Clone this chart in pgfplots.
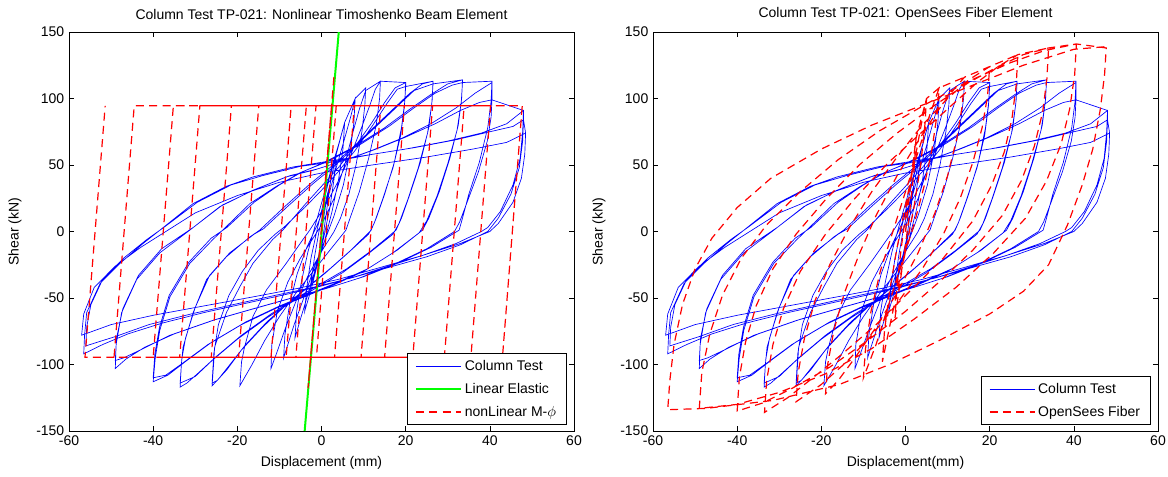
\documentclass[border=0pt]{standalone}
\usepackage{pgfplots}
\pgfplotsset{compat=1.18}
\usepackage{pgfplotstable}
\usepackage{fontspec}
\setmainfont{Liberation Sans}
\definecolor{mblue}{RGB}{0,0,255}
\definecolor{mred}{RGB}{255,0,0}
\definecolor{mgreen}{RGB}{0,255,0}

% measured column test (shared by both panels)
\pgfplotstableread[row sep=\\]{
x y\\
0 0\\ 1 20\\ 2 35\\ 1.2 15\\ 0.3 -5\\ -0.8 -20\\ -1.8 -32\\ -2.5 -38\\
-1.6 -18\\ -0.6 0\\ 0.5 15\\ 1.3 27\\ 2 35\\
3.5 58\\ 3 40\\ 2 18\\ 0.5 -5\\ -1 -25\\ -2.5 -44\\ -4 -60\\
-3.5 -42\\ -2.5 -20\\ -1 2\\ 0.5 22\\ 2 42\\ 3.5 58\\
5.5 82\\ 5.1 62\\ 4 38\\ 2.5 15\\ 0.5 -10\\ -1.5 -30\\ -3.5 -50\\ -5.2 -68\\ -6.3 -80\\
-5.9 -60\\ -4.8 -38\\ -3.2 -15\\ -1.2 8\\ 0.8 30\\ 2.6 50\\ 4.3 68\\ 5.5 82\\
8 100\\ 7.7 82\\ 6.8 60\\ 5.2 35\\ 3 12\\ 1 -5\\ -1.5 -25\\ -4 -48\\ -6.5 -70\\ -8 -85\\ -9 -95\\
-8.7 -78\\ -7.6 -55\\ -5.8 -32\\ -3.5 -12\\ -1 5\\ 1.5 25\\ 3.5 48\\ 5.5 70\\ 7 87\\ 8 100\\
10.5 108\\ 10.3 95\\ 9.6 75\\ 8.2 50\\ 6.5 28\\ 4.5 10\\ 3 0\\ 0 -15\\ -3 -32\\ -6 -52\\ -8.5 -72\\ -10.5 -90\\ -12 -103\\
-11.8 -85\\ -10.5 -60\\ -8 -38\\ -5 -20\\ -2 -5\\ 0 5\\ 3 25\\ 5.5 50\\ 7.5 75\\ 9 92\\ 10.5 106\\
14 113\\ 13.8 100\\ 13 80\\ 11.2 55\\ 9 30\\ 7 12\\ 5.8 1\\ 2 -14\\ -2 -30\\ -6 -46\\ -10 -64\\ -13.5 -82\\ -16.5 -100\\ -18.5 -111\\ -19.4 -116\\
-19 -98\\ -18.3 -87\\ -16.3 -64\\ -13.1 -44\\ -8.4 -24\\ -4.4 -6\\ -2.8 1\\ 1 20\\ 4 38\\ 7 58\\ 9.5 78\\ 11.5 95\\ 12.8 107\\ 14 113\\
20 112\\ 19.8 98\\ 19 78\\ 17.3 52\\ 15 28\\ 13 10\\ 11.8 1\\ 7 -14\\ 2 -28\\ -3 -41\\ -8 -54\\ -13 -68\\ -18 -85\\ -22 -101\\ -24.5 -111\\ -26 -116\\
-25.6 -98\\ -25.4 -87\\ -22.6 -61\\ -19.4 -41.5\\ -16.3 -24\\ -11.6 -6\\ -9.2 1\\ -4 20\\ 0 34\\ 4 48\\ 8 64\\ 12 82\\ 15 97\\ 17.5 108\\ 20 112\\
20 109\\ 19.7 94\\ 18.8 72\\ 17 48\\ 14.5 24\\ 12.5 6\\ 11.2 -2\\ 6 -17\\ 1 -31\\ -4 -44\\ -9 -57\\ -14 -72\\ -19 -89\\ -22.5 -104\\ -24.8 -112\\ -26 -114\\
-25.6 -92\\ -24.5 -70\\ -22 -48\\ -18.8 -30\\ -15 -14\\ -11 -2\\ -9 3\\ -4 18\\ 0 31\\ 4 45\\ 8 61\\ 12 79\\ 15.5 96\\ 18 107\\ 20 109\\
26.5 113\\ 26.3 99\\ 25.5 78\\ 23.5 52\\ 21 28\\ 19 10\\ 17.7 1\\ 12 -14\\ 6 -28\\ 0 -39\\ -6 -50\\ -12 -62\\ -19 -78\\ -25 -94\\ -29.5 -107\\ -32 -114\\ -33.6 -117\\
-33.3 -100\\ -32.9 -87\\ -30.5 -61\\ -27.3 -36\\ -22.6 -19\\ -17 -4\\ -14.7 1\\ -9 18\\ -3 35\\ 2 48\\ 7 62\\ 12 77\\ 17 92\\ 21 104\\ 24 111\\ 26.5 113\\
26.5 111\\ 26.2 96\\ 25.2 74\\ 23 48\\ 20.5 24\\ 18.4 6\\ 17 -2\\ 11 -17\\ 5 -31\\ -1 -42\\ -7 -53\\ -13 -65\\ -20 -81\\ -26 -97\\ -30 -109\\ -33.6 -114\\
-33.2 -96\\ -32.3 -80\\ -30 -57\\ -26.6 -33\\ -21.8 -16\\ -16 -2\\ -13.8 2\\ -8 19\\ -2 36\\ 3 49\\ 8 64\\ 13 79\\ 18 94\\ 22 106\\ 26.5 111\\
33.5 114\\ 33.3 100\\ 32.5 80\\ 30.5 55\\ 28 30\\ 25.5 10\\ 24 1\\ 18 -14\\ 11 -28\\ 4 -38\\ -3 -47\\ -10 -56\\ -18 -68\\ -26 -83\\ -32 -97\\ -36.5 -108\\ -40 -113\\
-39.5 -95\\ -38.4 -74\\ -36 -49\\ -31.3 -24\\ -25.8 -6\\ -23.5 1\\ -17 21\\ -10.7 34\\ -5.2 44\\ 0 51\\ 8 64\\ 15 78\\ 21 92\\ 26 103\\ 30 111\\ 33.5 114\\
33.5 112\\ 33.2 97\\ 32.2 76\\ 30 51\\ 27.5 27\\ 25 8\\ 23.2 -1\\ 17 -16\\ 10 -30\\ 3 -40\\ -4 -49\\ -11 -58\\ -19 -70\\ -27 -85\\ -33 -99\\ -37 -108\\ -40 -110\\
-39.6 -92\\ -38.5 -72\\ -36.2 -48\\ -31.5 -23\\ -26.2 -5\\ -22.5 3\\ -16 22\\ -10 35\\ -4.5 45\\ 1 52\\ 9 65\\ 16 79\\ 22 93\\ 27 104\\ 31 110\\ 33.5 112\\
40.5 113\\ 40.3 98\\ 39.5 78\\ 37.5 52\\ 35 28\\ 33.5 10\\ 32.7 1\\ 26 -12\\ 18 -24\\ 10 -34\\ 2 -42\\ -6 -49\\ -15 -57\\ -25 -66\\ -35 -77\\ -42 -87\\ -46.5 -96\\ -49 -103\\
-48.8 -85\\ -47.5 -61\\ -43.9 -36\\ -38.4 -16\\ -31.3 1\\ -24.2 18.6\\ -16.3 31\\ -8.4 41\\ -2 46\\ 5 53\\ 12 61\\ 19 70\\ 26 81\\ 32 93\\ 36.5 104\\ 40.5 112\\
40.5 99\\ 40.3 86\\ 39.4 68\\ 37.3 45\\ 34.6 22\\ 32.8 7\\ 31.6 0\\ 25 -13\\ 17 -25\\ 9 -35\\ 1 -43\\ -7 -50\\ -16 -58\\ -26 -67\\ -36 -78\\ -43 -89\\ -47 -95\\ -49 -97\\
-48.7 -80\\ -47.2 -58\\ -43.5 -33\\ -38 -13\\ -30.5 3\\ -23.5 20\\ -15.5 32\\ -7.5 42\\ -1 47\\ 6 54\\ 13 62\\ 20 71\\ 27 81\\ 33 91\\ 37.5 97\\ 40.5 99\\
48 91\\ 47.8 75\\ 47.2 55\\ 45.5 35\\ 42.5 15\\ 39.5 3\\ 38 0\\ 32 -9\\ 24 -18\\ 16 -26\\ 8 -34\\ 0 -41\\ -8 -47\\ -18 -54\\ -28 -61\\ -38 -69\\ -46 -77\\ -52 -85\\ -56.5 -92\\
-56.3 -78\\ -55.8 -61\\ -52.6 -39\\ -47.9 -24\\ -42.4 -9\\ -38.4 1\\ -30.5 21\\ -22.6 34\\ -16.3 41\\ -6.8 48.5\\ 0 52\\ 10 57\\ 20 62\\ 30 68\\ 38 74\\ 44 81\\ 48 91\\
48 84\\ 47.8 68\\ 47 48\\ 45 28\\ 42 10\\ 39.5 0\\ 33 -10\\ 25 -19\\ 16 -27\\ 7 -35\\ -2 -42\\ -11 -48\\ -21 -55\\ -31 -62\\ -41 -70\\ -49 -79\\ -56 -86\\
-55.8 -72\\ -54.8 -55\\ -52 -36\\ -47 -20\\ -41.5 -6\\ -37.5 3\\ -29.5 22\\ -21.5 35\\ -14 42\\ -5 49\\ 2 52\\ 12 58\\ 22 63\\ 32 69\\ 40 75\\ 45.5 79\\ 48 84\\
48.5 74\\ 48.3 58\\ 47.5 40\\ 45.5 22\\ 42 6\\ 40 0\\ 33 -9\\ 24 -18\\ 14 -27\\ 4 -36\\ -6 -43\\ -16 -49\\ -28 -56\\ -40 -63\\ -50 -70\\ -57 -78\\
-56.5 -62\\ -54 -42\\ -49 -26\\ -43 -12\\ -38 -2\\ -30 14\\ -20 27\\ -10 37\\ 0 44\\ 12 50\\ 25 56\\ 36 62\\ 44 67\\ 48.5 74\\
}\colTest

% nonlinear M-phi model
\pgfplotstableread[row sep=\\]{
x y\\
0 0\\ 3 118\\ -3.2 -118\\ 2.4 94.5\\ 3.5 94.5\\ -1.2 -94.5\\ -6.1 -94.5\\ -1.3 94.5\\
7.8 94.5\\ 3.1 -94.5\\ -8.4 -94.5\\ -3.6 94.5\\
14.1 94.5\\ 9.4 -94.5\\ -12 -94.5\\ -7.2 94.5\\
19.7 94.5\\ 15 -94.5\\ -19.7 -94.5\\ -14.9 94.5\\
26.4 94.5\\ 21.7 -94.5\\ -26.2 -94.5\\ -21.4 94.5\\
33.9 94.5\\ 29.2 -94.5\\ -33.7 -94.5\\ -28.9 94.5\\
40.2 94.5\\ 35.5 -94.5\\ -40 -94.5\\ -35.2 94.5\\
47.7 94.5\\ 43 -94.5\\ -49.3 -94.5\\ -44.5 94.5\\
47.7 94.5\\ 43 -94.5\\ -56.2 -94.5\\ -51.4 94.5\\
}\mphi

% OpenSees fiber model
\pgfplotstableread[row sep=\\]{
x y\\
0 0\\ 1.2 35\\ 2.5 70\\ 2 45\\ 1 15\\ 0 -10\\ -1 -32\\ -1.8 -50\\ -2.5 -65\\
-2 -40\\ -1 -12\\ 0 12\\ 1 35\\ 1.8 52\\ 2.5 70\\
5 100\\ 4.6 80\\ 3.6 50\\ 2 18\\ 0 -15\\ -2 -45\\ -3.8 -72\\ -5.5 -98\\
-5 -75\\ -3.8 -45\\ -2 -12\\ 0 20\\ 2 50\\ 3.6 78\\ 5 100\\
8 108\\ 7.5 88\\ 6.3 62\\ 4.5 35\\ 2 5\\ -1 -25\\ -4 -55\\ -7 -85\\ -10 -110\\
-9.5 -88\\ -8.2 -60\\ -6 -30\\ -3 0\\ 0 30\\ 3 60\\ 5.8 88\\ 8 108\\
14 116\\ 13.5 95\\ 12.2 70\\ 10 42\\ 7 14\\ 3 -16\\ -2 -46\\ -7 -72\\ -12 -95\\ -16 -112\\ -19 -122\\
-18.5 -100\\ -17 -74\\ -14.5 -46\\ -11 -17\\ -7 12\\ -2 42\\ 3 68\\ 7.5 90\\ 11 105\\ 14 116\\
20 124\\ 19.5 102\\ 18.2 78\\ 16 52\\ 13 25\\ 9 -2\\ 4 -28\\ -2 -54\\ -8 -78\\ -14 -98\\ -20 -115\\ -26 -128\\
-25.5 -106\\ -24 -80\\ -21.5 -52\\ -18 -25\\ -13.5 2\\ -8 30\\ -2 56\\ 4 80\\ 10 100\\ 15 114\\ 20 124\\
26.7 133\\ 26.3 110\\ 25.3 85\\ 23.5 60\\ 20.5 35\\ 16 8\\ 9 -20\\ 1 -45\\ -7 -70\\ -15 -92\\ -22 -110\\ -28 -125\\ -33.5 -136\\
-33 -112\\ -31.5 -85\\ -29 -58\\ -25 -30\\ -19 -2\\ -12 25\\ -4 52\\ 4 75\\ 11 95\\ 17 112\\ 22 124\\ 26.7 133\\
34 138\\ 33.6 115\\ 32.6 90\\ 30.6 64\\ 27.5 38\\ 23 12\\ 16 -14\\ 8 -38\\ 0 -60\\ -9 -82\\ -18 -102\\ -27 -118\\ -34 -129\\ -40 -135\\
-39.5 -110\\ -38 -83\\ -35.5 -56\\ -31.5 -28\\ -26 -2\\ -19 24\\ -11 50\\ -2 74\\ 7 95\\ 15 112\\ 22 124\\ 28 133\\ 34 138\\
40.6 141\\ 40.2 118\\ 39 92\\ 37 66\\ 33.5 38\\ 28.5 10\\ 21 -16\\ 12 -42\\ 2 -66\\ -8 -88\\ -19 -107\\ -30 -121\\ -40 -130\\ -49 -133\\
-48.4 -106\\ -46.5 -77\\ -43.5 -48\\ -39 -20\\ -33 5\\ -25 30\\ -16 54\\ -6 76\\ 5 96\\ 15 113\\ 25 127\\ 33 136\\ 40.6 141\\
47.7 138\\ 47.3 118\\ 46.3 92\\ 44.5 62\\ 42 35\\ 38.5 5\\ 34 -25\\ 28 -45\\ 20 -62\\ 8 -82\\ -3.8 -100\\ -15.7 -115\\ -31.5 -127\\ -47.4 -133\\ -56.5 -134\\
-56 -112\\ -55 -85\\ -53 -55\\ -50 -28\\ -46 -5\\ -40 18\\ -32 40\\ -20 62\\ -8 80\\ 4 95\\ 16 110\\ 28 125\\ 40 137\\ 47.7 139\\
}\fiber

\pgfplotsset{
  mat/.style={
    scale only axis, width=378.75pt, height=299.25pt,
    xmin=-60, xmax=60, ymin=-150, ymax=150,
    xtick={-60,-40,-20,0,20,40,60},
    xticklabels={-60,-40,-20,0,20,40,60},
    ytick={-150,-100,-50,0,50,100,150},
    yticklabels={-150,-100,-50,0,50,100,150},
    tick align=inside, xtick pos=both, ytick pos=both,
    xticklabel pos=lower, yticklabel pos=left,
    major tick length=4pt,
    tick style={black, line width=0.5pt},
    axis line style={black, line width=0.6pt},
    tick label style={font=\fontsize{10.5}{12}\selectfont},
    label style={font=\fontsize{10.5}{12}\selectfont},
    title style={font=\fontsize{10.5}{12}\selectfont, yshift=-0.5pt},
    xlabel style={at={(axis description cs:0.5,0)}, anchor=center, yshift=-24pt},
    ylabel style={at={(axis description cs:0,0.5)}, anchor=center, yshift=40.5pt},
    ylabel={Shear (kN)},
    legend style={at={(1,0)}, anchor=south east, xshift=-5.25pt, yshift=4.5pt,
      fill=white, font=\fontsize{10.5}{12}\selectfont,
      inner xsep=6pt, inner ysep=3pt, row sep=4pt},
    legend cell align=left,
    legend image code/.code={\draw[#1] (0pt,0pt) -- (34pt,0pt);},
  },
  testline/.style={draw=mblue, color=mblue, line width=0.5pt, solid},
  elasticline/.style={draw=mgreen, color=mgreen, line width=1.5pt, solid},
  modelline/.style={draw=mred, color=mred, line width=0.9pt, dash pattern=on 6pt off 4pt},
  testkey/.style={legend image code/.code={\draw[mblue, line width=0.8pt] (0pt,0pt) -- (34pt,0pt);}},
}

\begin{document}
\begin{tikzpicture}
\useasboundingbox (-51.75pt,-33.75pt) rectangle (824.25pt,323.25pt);
\begin{axis}[mat, at={(0pt,0pt)}, anchor=south west,
  title={Column Test TP-021: Nonlinear Timoshenko Beam Element},
  xlabel={Displacement (mm)}]
  \addplot[testline, forget plot] table[x=x, y=y] {\colTest};
  \addplot[elasticline, forget plot] coordinates {(-4,-150) (4.1,150)};
  \addplot[modelline, forget plot] table[x=x, y=y] {\mphi};
  \addlegendimage{testkey}
  \addlegendentry{Column Test}
  \addlegendimage{elasticline}
  \addlegendentry{Linear Elastic}
  \addlegendimage{modelline}
  \addlegendentry{nonLinear M-$\phi$}
\end{axis}
\begin{axis}[mat, at={(438pt,0pt)}, anchor=south west,
  title={Column Test TP-021: OpenSees Fiber Element},
  xlabel={Displacement(mm)}]
  \addplot[testline, forget plot] table[x=x, y=y] {\colTest};
  \addplot[modelline, forget plot] table[x=x, y=y] {\fiber};
  \addlegendimage{testkey}
  \addlegendentry{Column Test}
  \addlegendimage{modelline}
  \addlegendentry{OpenSees Fiber}
\end{axis}
\end{tikzpicture}
\end{document}
